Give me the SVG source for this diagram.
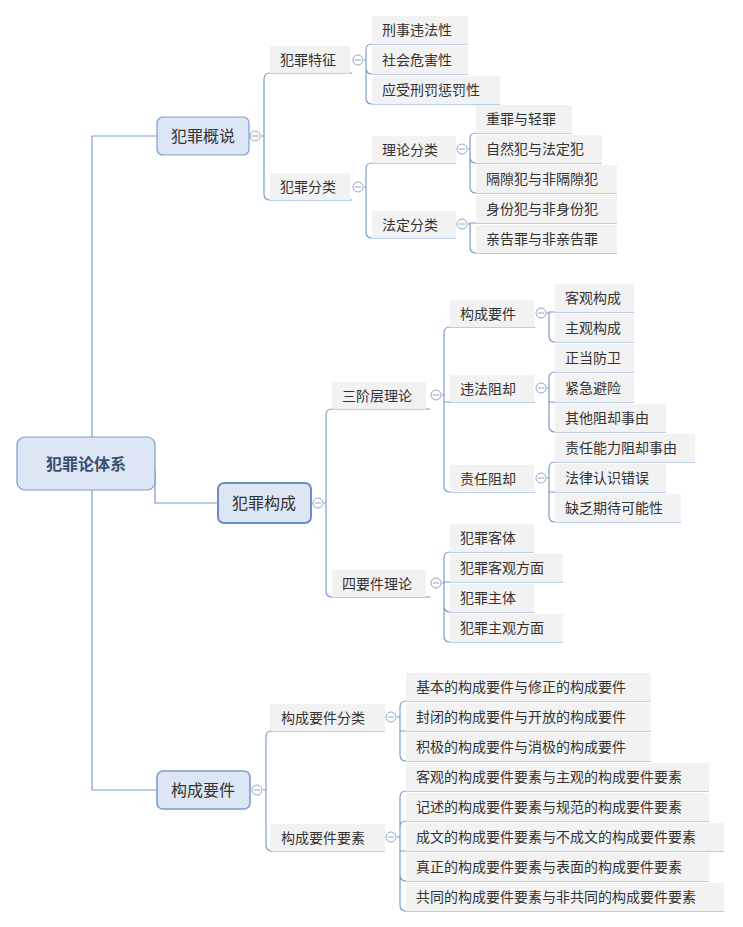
<svg xmlns="http://www.w3.org/2000/svg" width="743" height="927" viewBox="0 0 743 927">
<style>
.c{stroke:#7b9ccf;fill:none;stroke-width:1.2}
.bg{fill:#f2f2f2}
.t{font-family:"Liberation Sans","Noto Sans CJK SC",sans-serif;font-size:14px;fill:#333}
.t1{font-family:"Liberation Sans","Noto Sans CJK SC",sans-serif;font-size:16px;fill:#333;text-anchor:middle}
.n1{fill:#dce6f4;stroke:#7b9ccf;stroke-width:1.2}
.m{fill:#fff;stroke:#8fa6c8;stroke-width:1}
</style>
<defs>
<g id="mn"><circle r="5" class="m"/><line x1="-3" x2="3" y1="0" y2="0" stroke="#8fa6c8"/></g>
</defs>
<rect width="743" height="927" fill="#fff"/>
<g id="connectors">
<path class="c" d="M157,136 H92 V790 H157"/>
<path class="c" d="M155,470 V503 H218"/>
<path class="c" d="M261,136 H264 V79 Q264,73 270,73 M264,136 V194 Q264,200 270,200"/>
<path class="c" d="M270,73 H352 M270,200 H352"/>
<path class="c" d="M364,60 H366 V50 Q366,44 372,44 M366,60 V68 Q366,74 372,74 M366,60 V98 Q366,104 372,104"/>
<path class="c" d="M372,44 H468 M372,74 H468 M372,104 H500"/>
<path class="c" d="M364,187 H366 V169 Q366,163 372,163 M366,187 V232 Q366,238 372,238"/>
<path class="c" d="M372,163 H456 M372,238 H456"/>
<path class="c" d="M468,149 H470 V139 Q470,133 476,133 M470,149 V157 Q470,163 476,163 M470,149 V187 Q470,193 476,193"/>
<path class="c" d="M476,133 H572 M476,163 H602 M476,193 H617"/>
<path class="c" d="M468,224 H470 V223 H476 M470,224 V247 Q470,253 476,253"/>
<path class="c" d="M476,223 H617 M476,253 H617"/>
<path class="c" d="M324,503 H326 V415 Q326,409 332,409 M326,503 V591 Q326,597 332,597"/>
<path class="c" d="M332,409 H430 M332,597 H430"/>
<path class="c" d="M442,395 H444 V333 Q444,327 450,327 M444,395 V402 H450 M444,395 V486 Q444,492 450,492"/>
<path class="c" d="M450,327 H535 M450,402 H535 M450,492 H535"/>
<path class="c" d="M547,313 H549 V312 H555 M549,313 V336 Q549,342 555,342"/>
<path class="c" d="M555,312 H634 M555,342 H634"/>
<path class="c" d="M547,388 H549 V378 Q549,372 555,372 M549,388 V402 H555 M549,388 V426 Q549,432 555,432"/>
<path class="c" d="M555,372 H634 M555,402 H634 M555,432 H666"/>
<path class="c" d="M547,478 H549 V468 Q549,462 555,462 M549,478 V492 H555 M549,478 V516 Q549,522 555,522"/>
<path class="c" d="M555,462 H695 M555,492 H666 M555,522 H681"/>
<path class="c" d="M442,583 H444 V558 Q444,552 450,552 M444,583 V582 H450 M444,583 V606 Q444,612 450,612 M444,583 V636 Q444,642 450,642"/>
<path class="c" d="M450,552 H534 M450,582 H563 M450,612 H534 M450,642 H563"/>
<path class="c" d="M263,790 H266 V737 Q266,731 272,731 M266,790 V845 Q266,851 272,851"/>
<path class="c" d="M270,731 H385 M270,851 H385"/>
<path class="c" d="M397,717 H400 V707 Q400,701 406,701 M400,717 V731 H406 M400,717 V755 Q400,761 406,761"/>
<path class="c" d="M406,701 H651 M406,731 H651 M406,761 H651"/>
<path class="c" d="M397,837 H400 V797 Q400,791 406,791 M400,837 V827 Q400,821 406,821 M400,837 V851 H406 M400,837 V875 Q400,881 406,881 M400,837 V905 Q400,911 406,911"/>
<path class="c" d="M406,791 H709 M406,821 H709 M406,851 H724 M406,881 H709 M406,911 H724"/>
</g>
<g id="root"><rect x="17" y="437" width="138" height="53" rx="8" class="n1"/><text x="86" y="470" class="t1" font-weight="bold" style="fill:#3b5070">犯罪论体系</text></g>
<g id="n-gaishuo"><rect x="157" y="117" width="92" height="38" rx="6" class="n1"/><text x="203" y="142" class="t1">犯罪概说</text><use href="#mn" x="255" y="136"/></g>
<g id="n-goucheng"><rect x="218" y="483" width="93" height="40" rx="6" class="n1" style="stroke-width:2;stroke:#6a8fc4"/><text x="264" y="509" class="t1">犯罪构成</text><use href="#mn" x="318" y="503"/></g>
<g id="n-yaojian"><rect x="157" y="771" width="93" height="38" rx="6" class="n1" style="stroke-width:1.6"/><text x="203" y="796" class="t1">构成要件</text><use href="#mn" x="257" y="790"/></g>

<g id="n-tezheng"><rect x="270" y="46" width="80" height="27" class="bg"/><text x="280" y="65" class="t">犯罪特征</text><use href="#mn" x="358" y="60"/></g>
<g id="l1"><rect x="372" y="16" width="96" height="28" class="bg"/><text x="382" y="35" class="t">刑事违法性</text></g>
<g id="l2"><rect x="372" y="46" width="96" height="28" class="bg"/><text x="382" y="65" class="t">社会危害性</text></g>
<g id="l3"><rect x="372" y="76" width="128" height="28" class="bg"/><text x="382" y="95" class="t">应受刑罚惩罚性</text></g>
<g id="n-fenlei"><rect x="270" y="173" width="80" height="27" class="bg"/><text x="280" y="192" class="t">犯罪分类</text><use href="#mn" x="358" y="187"/></g>
<g id="n-lilun"><rect x="372" y="136" width="84" height="27" class="bg"/><text x="382" y="155" class="t">理论分类</text><use href="#mn" x="462" y="149"/></g>
<g id="n-fading"><rect x="372" y="211" width="84" height="27" class="bg"/><text x="382" y="230" class="t">法定分类</text><use href="#mn" x="462" y="224"/></g>
<g id="l4"><rect x="476" y="105" width="96" height="28" class="bg"/><text x="486" y="124" class="t">重罪与轻罪</text></g>
<g id="l5"><rect x="476" y="135" width="126" height="28" class="bg"/><text x="486" y="154" class="t">自然犯与法定犯</text></g>
<g id="l6"><rect x="476" y="165" width="141" height="28" class="bg"/><text x="486" y="184" class="t">隔隙犯与非隔隙犯</text></g>
<g id="l7"><rect x="476" y="195" width="141" height="28" class="bg"/><text x="486" y="214" class="t">身份犯与非身份犯</text></g>
<g id="l8"><rect x="476" y="225" width="141" height="28" class="bg"/><text x="486" y="244" class="t">亲告罪与非亲告罪</text></g>

<g id="n-sanjie"><rect x="332" y="382" width="94" height="27" class="bg"/><text x="342" y="401" class="t">三阶层理论</text><use href="#mn" x="436" y="395"/></g>
<g id="n-siyao"><rect x="332" y="570" width="94" height="27" class="bg"/><text x="342" y="589" class="t">四要件理论</text><use href="#mn" x="436" y="583"/></g>
<g id="n-gcyj"><rect x="450" y="300" width="84" height="27" class="bg"/><text x="460" y="319" class="t">构成要件</text><use href="#mn" x="541" y="313"/></g>
<g id="n-wf"><rect x="450" y="375" width="84" height="27" class="bg"/><text x="460" y="394" class="t">违法阻却</text><use href="#mn" x="541" y="388"/></g>
<g id="n-zr"><rect x="450" y="465" width="84" height="27" class="bg"/><text x="460" y="484" class="t">责任阻却</text><use href="#mn" x="541" y="478"/></g>
<g id="l9"><rect x="555" y="284" width="79" height="28" class="bg"/><text x="565" y="303" class="t">客观构成</text></g>
<g id="l10"><rect x="555" y="314" width="79" height="28" class="bg"/><text x="565" y="333" class="t">主观构成</text></g>
<g id="l11"><rect x="555" y="344" width="79" height="28" class="bg"/><text x="565" y="363" class="t">正当防卫</text></g>
<g id="l12"><rect x="555" y="374" width="79" height="28" class="bg"/><text x="565" y="393" class="t">紧急避险</text></g>
<g id="l13"><rect x="555" y="404" width="111" height="28" class="bg"/><text x="565" y="423" class="t">其他阻却事由</text></g>
<g id="l14"><rect x="555" y="434" width="140" height="28" class="bg"/><text x="565" y="453" class="t">责任能力阻却事由</text></g>
<g id="l15"><rect x="555" y="464" width="111" height="28" class="bg"/><text x="565" y="483" class="t">法律认识错误</text></g>
<g id="l16"><rect x="555" y="494" width="126" height="28" class="bg"/><text x="565" y="513" class="t">缺乏期待可能性</text></g>
<g id="l17"><rect x="450" y="524" width="84" height="28" class="bg"/><text x="460" y="543" class="t">犯罪客体</text></g>
<g id="l18"><rect x="450" y="554" width="113" height="28" class="bg"/><text x="460" y="573" class="t">犯罪客观方面</text></g>
<g id="l19"><rect x="450" y="584" width="84" height="28" class="bg"/><text x="460" y="603" class="t">犯罪主体</text></g>
<g id="l20"><rect x="450" y="614" width="113" height="28" class="bg"/><text x="460" y="633" class="t">犯罪主观方面</text></g>

<g id="n-yjfl"><rect x="270" y="704" width="115" height="27" class="bg"/><text x="281" y="723" class="t">构成要件分类</text><use href="#mn" x="391" y="717"/></g>
<g id="n-yjys"><rect x="270" y="824" width="115" height="27" class="bg"/><text x="281" y="843" class="t">构成要件要素</text><use href="#mn" x="391" y="837"/></g>
<g id="l21"><rect x="406" y="673" width="245" height="28" class="bg"/><text x="416" y="692" class="t">基本的构成要件与修正的构成要件</text></g>
<g id="l22"><rect x="406" y="703" width="245" height="28" class="bg"/><text x="416" y="722" class="t">封闭的构成要件与开放的构成要件</text></g>
<g id="l23"><rect x="406" y="733" width="245" height="28" class="bg"/><text x="416" y="752" class="t">积极的构成要件与消极的构成要件</text></g>
<g id="l24"><rect x="406" y="763" width="303" height="28" class="bg"/><text x="416" y="782" class="t">客观的构成要件要素与主观的构成要件要素</text></g>
<g id="l25"><rect x="406" y="793" width="303" height="28" class="bg"/><text x="416" y="812" class="t">记述的构成要件要素与规范的构成要件要素</text></g>
<g id="l26"><rect x="406" y="823" width="318" height="28" class="bg"/><text x="416" y="842" class="t">成文的构成要件要素与不成文的构成要件要素</text></g>
<g id="l27"><rect x="406" y="853" width="303" height="28" class="bg"/><text x="416" y="872" class="t">真正的构成要件要素与表面的构成要件要素</text></g>
<g id="l28"><rect x="406" y="883" width="318" height="28" class="bg"/><text x="416" y="902" class="t">共同的构成要件要素与非共同的构成要件要素</text></g>
</svg>
